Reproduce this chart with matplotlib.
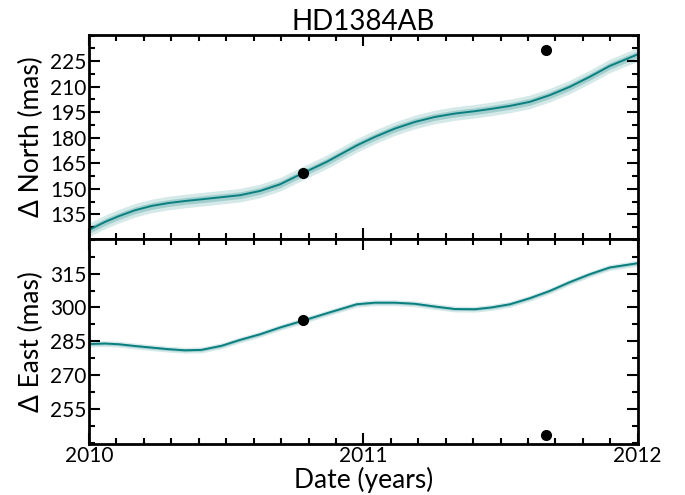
import numpy as np
import matplotlib.pyplot as plt
from matplotlib.ticker import MultipleLocator, FixedLocator

plt.rcParams['font.family'] = ['Lato', 'DejaVu Sans']

# fitted orbit track
t_north = [2010.0, 2010.058, 2010.107, 2010.168, 2010.228, 2010.289, 2010.35, 2010.41,
           2010.48, 2010.55, 2010.623, 2010.696, 2010.781, 2010.866, 2010.975,
           2011.042, 2011.115, 2011.188, 2011.26, 2011.333, 2011.406, 2011.467,
           2011.534, 2011.607, 2011.679, 2011.752, 2011.825, 2011.898, 2012.0]
north = [125.8, 130.5, 133.8, 137.4, 139.9, 141.6, 142.8, 143.8,
         145.0, 146.2, 148.7, 152.6, 159.3, 165.8, 175.4,
         180.5, 185.4, 189.3, 192.2, 194.2, 195.6, 197.0,
         198.7, 201.1, 205.0, 209.9, 215.8, 222.2, 229.0]

t_east = [2010.0, 2010.058, 2010.107, 2010.168, 2010.228, 2010.289, 2010.35, 2010.41,
          2010.483, 2010.55, 2010.623, 2010.696, 2010.781, 2010.866, 2010.975,
          2011.042, 2011.115, 2011.188, 2011.26, 2011.333, 2011.406, 2011.467,
          2011.534, 2011.607, 2011.679, 2011.752, 2011.825, 2011.898, 2012.0]
east = [283.8, 284.0, 283.7, 282.9, 282.2, 281.5, 281.0, 281.2,
        283.0, 285.6, 288.1, 291.1, 294.2, 297.4, 301.4,
        302.1, 302.1, 301.6, 300.4, 299.3, 299.2, 300.0,
        301.4, 304.1, 307.3, 311.2, 314.7, 317.7, 319.6]

# measured positions
t_obs = [2010.78, 2011.665]
north_obs = [159.3, 231.5]
east_obs = [294.3, 243.5]

north_ticks = [135, 150, 165, 180, 195, 210, 225]
east_ticks = [255, 270, 285, 300, 315]

band_north = [2.0, 4.0]
band_east = [0.6, 1.3]

teal = '#0a7f7f'

fig = plt.figure(figsize=(6.85, 4.95), dpi=100)
ax1 = fig.add_axes([0.130, 0.5166, 0.801, 0.4134])
ax2 = fig.add_axes([0.130, 0.1036, 0.801, 0.4130], sharex=ax1)

for ax, t, y, band, yo, yt in [(ax1, t_north, north, band_north, north_obs, north_ticks),
                               (ax2, t_east, east, band_east, east_obs, east_ticks)]:
    t = np.array(t)
    y = np.array(y)
    ax.fill_between(t, y - band[1], y + band[1], color=teal, alpha=0.17, lw=0)
    ax.fill_between(t, y - band[0], y + band[0], color=teal, alpha=0.25, lw=0)
    ax.plot(t, y, color=teal, lw=1.4, solid_joinstyle='round')
    ax.plot(t_obs, yo, 'o', color='black', ms=7, zorder=5)
    ax.tick_params(which='both', direction='in', top=True, right=True, width=1.5,
                   labelsize=15, pad=2)
    ax.tick_params(which='major', length=8)
    ax.tick_params(which='minor', length=4)
    ax.yaxis.set_major_locator(FixedLocator(yt))
    ax.yaxis.set_minor_locator(MultipleLocator(7.5))
    ax.xaxis.set_major_locator(MultipleLocator(1))
    ax.xaxis.set_minor_locator(MultipleLocator(0.1))
    for s in ax.spines.values():
        s.set_linewidth(2)

ax1.set_xlim(2010, 2012)
ax1.set_ylim(120.3, 240.6)
ax2.set_ylim(239.6, 330.2)
ax1.tick_params(labelbottom=False)
ax2.xaxis.set_major_formatter(plt.FuncFormatter(lambda v, p: f"{int(round(v))}"))

ax1.set_title('HD1384AB', fontsize=20, pad=3)
ax1.set_ylabel('Δ North (mas)', fontsize=19, labelpad=4)
ax2.set_ylabel('Δ East (mas)', fontsize=19, labelpad=4)
ax2.set_xlabel('Date (years)', fontsize=19, labelpad=0)

fig.savefig('out.png', dpi=100)
